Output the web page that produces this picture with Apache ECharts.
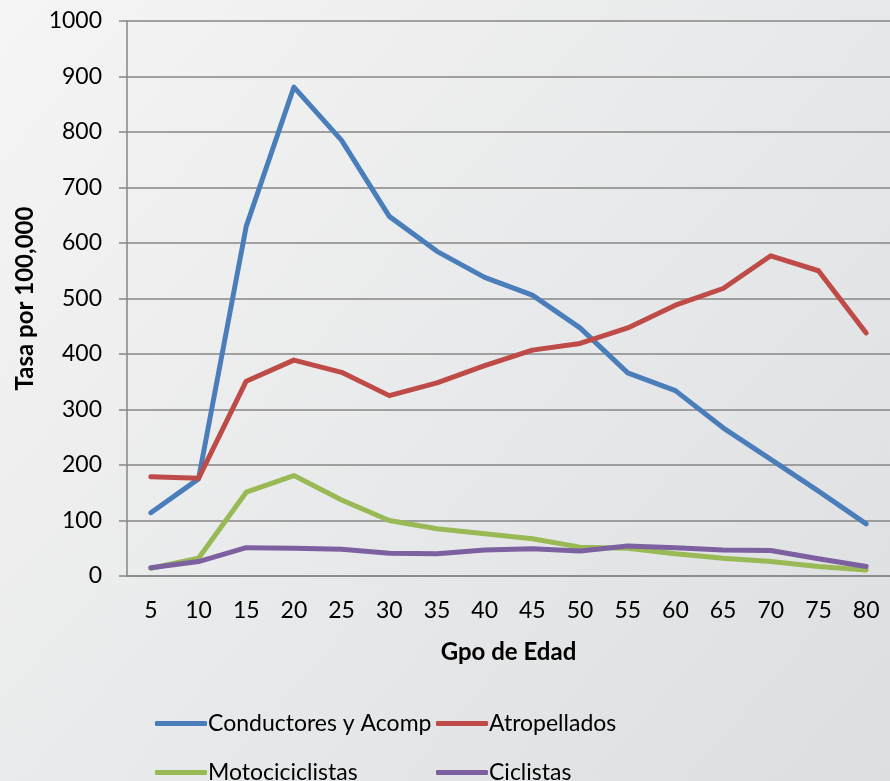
<!DOCTYPE html>
<html>
<head>
<meta charset="utf-8">
<script src="https://cdn.jsdelivr.net/npm/echarts@6/dist/echarts.min.js"></script>
<style>
html,body{margin:0;padding:0;}
#chart{width:890px;height:781px;}
</style>
</head>
<body>
<div id="chart"></div>
<script>
const categories = ['5','10','15','20','25','30','35','40','45','50','55','60','65','70','75','80'];
const conductores = [114, 175, 630, 881, 785, 648, 585, 538, 506, 447, 366, 334, 267, 210, 153, 94];
const atropellados = [179, 176, 351, 389, 367, 325, 348, 379, 407, 419, 447, 488, 518, 577, 550, 438];
const motociclistas = [14, 32, 151, 181, 137, 100, 85, 76, 67, 52, 50, 40, 32, 26, 17, 11];
const ciclistas = [15, 26, 51, 50, 48, 41, 40, 47, 49, 45, 54, 51, 47, 46, 31, 17];
const seriesNames = ['Conductores y Acomp', 'Atropellados', 'Motociciclistas', 'Ciclistas'];
const colors = ['#4a7ebb', '#be4b48', '#98b954', '#7d60a0'];

const font = 'Lato, "Open Sans", sans-serif';
const chart = echarts.init(document.getElementById('chart'));

function mkSeries(name, data, color) {
  return {
    name: name, type: 'line', data: data, symbol: 'none',
    lineStyle: { color: color, width: 5, cap: 'round', join: 'round' },
    itemStyle: { color: color }
  };
}
function mkLegend(name, left, top) {
  return {
    data: [name], left: left, top: top, padding: 0, itemWidth: 52, itemHeight: 5, itemGap: 0,
    icon: 'roundRect',
    textStyle: { fontFamily: font, fontSize: 23, color: '#000', padding: [0,0,0,-4] }
  };
}

chart.setOption({
  backgroundColor: {
    type: 'linear', x: 0, y: 0, x2: 1, y2: 1,
    colorStops: [{ offset: 0, color: '#f5f5f5' }, { offset: 1, color: '#dcdee0' }]
  },
  animation: false,
  grid: { left: 127, top: 21, bottom: 205, right: -10, containLabel: false },
  legend: [
    mkLegend(seriesNames[0], 155, 712),
    mkLegend(seriesNames[1], 436, 712),
    mkLegend(seriesNames[2], 155, 761),
    mkLegend(seriesNames[3], 436, 761)
  ],
  xAxis: {
    type: 'category', data: categories, boundaryGap: true,
    name: 'Gpo de Edad', nameLocation: 'middle', nameGap: 64,
    nameTextStyle: { fontFamily: font, fontSize: 24, fontWeight: 'bold', color: '#000' },
    axisLine: { lineStyle: { color: '#868686', width: 1.5 } },
    axisTick: { show: false },
    axisLabel: { fontFamily: font, fontSize: 23, color: '#000', margin: 23 }
  },
  yAxis: {
    type: 'value', min: 0, max: 1000, interval: 100,
    name: 'Tasa por 100,000', nameLocation: 'middle', nameGap: 86,
    nameTextStyle: { fontFamily: font, fontSize: 24, fontWeight: 'bold', color: '#000' },
    axisLine: { show: true, lineStyle: { color: '#868686', width: 1.5 } },
    axisTick: { show: true, length: 8, lineStyle: { color: '#868686', width: 1.5 } },
    axisLabel: { fontFamily: font, fontSize: 23, color: '#000', margin: 25, formatter: function (v) { return String(v); } },
    splitLine: { lineStyle: { color: '#868686', width: 1.5 } }
  },
  series: [
    mkSeries(seriesNames[0], conductores, colors[0]),
    mkSeries(seriesNames[1], atropellados, colors[1]),
    mkSeries(seriesNames[2], motociclistas, colors[2]),
    mkSeries(seriesNames[3], ciclistas, colors[3])
  ]
});
</script>
</body>
</html>
